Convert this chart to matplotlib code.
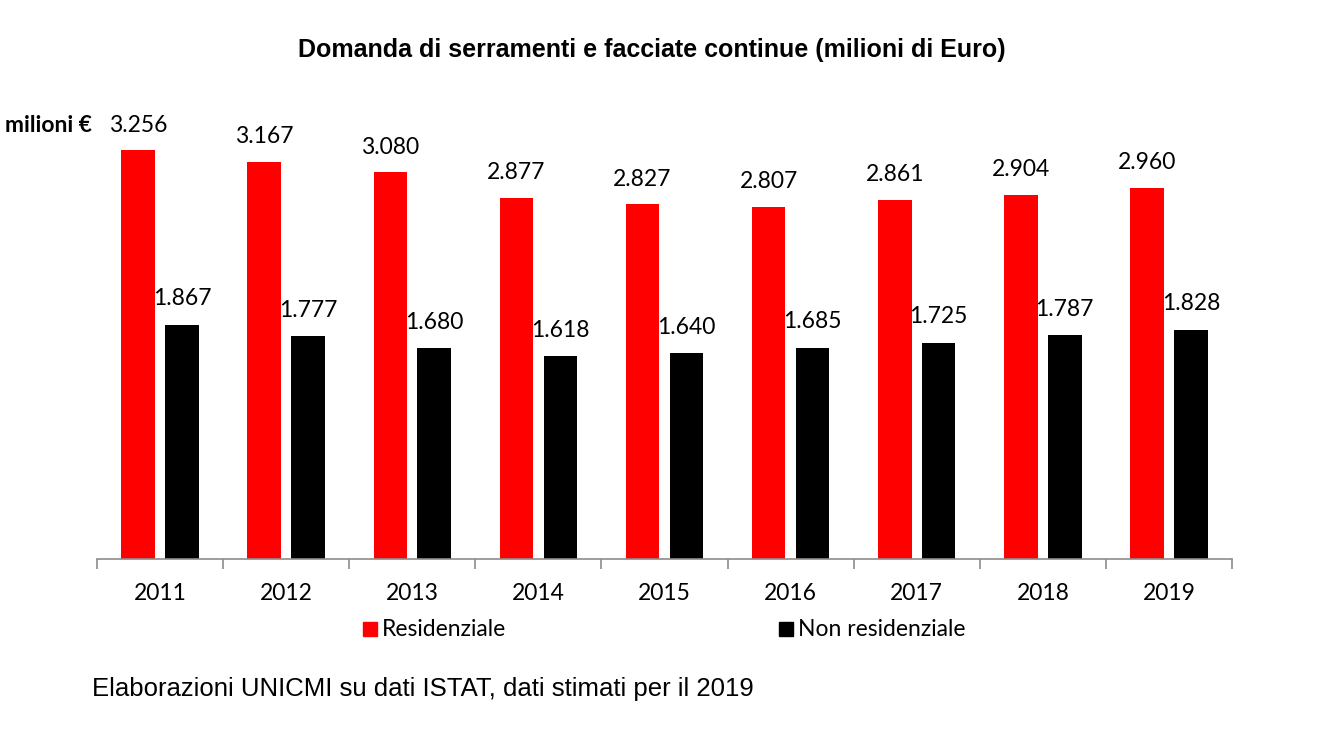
import matplotlib
matplotlib.use("Agg")
import matplotlib.pyplot as plt
from matplotlib.patches import Rectangle
import numpy as np

years = ["2011", "2012", "2013", "2014", "2015", "2016", "2017", "2018", "2019"]
residenziale = [3256, 3167, 3080, 2877, 2827, 2807, 2861, 2904, 2960]
non_residenziale = [1867, 1777, 1680, 1618, 1640, 1685, 1725, 1787, 1828]
labels_res = ["3.256", "3.167", "3.080", "2.877", "2.827", "2.807", "2.861", "2.904", "2.960"]
labels_non = ["1.867", "1.777", "1.680", "1.618", "1.640", "1.685", "1.725", "1.787", "1.828"]

W, H = 1323, 733
fig = plt.figure(figsize=(W / 100, H / 100), dpi=100)
ymax = 3500
scale = 0.1255  # px per unit
ax_h = ymax * scale / H
ax = fig.add_axes([97 / W, (H - 559) / H, 1135 / W, ax_h])

x = np.arange(len(years))
bw = 0.266
off = 0.174
RED = "#ff0000"
ax.bar(x - off, residenziale, bw, color=RED, label="Residenziale")
ax.bar(x + off, non_residenziale, bw, color="#000000", label="Non residenziale")

lab_font = "Lato"
fs = 16.5
for xi, v, t in zip(x - off, residenziale, labels_res):
    ax.annotate(t, (xi, v), xytext=(0, 18), textcoords="offset points",
                ha="center", va="center", fontsize=fs, family=lab_font)
for xi, v, t in zip(x + off, non_residenziale, labels_non):
    ax.annotate(t, (xi, v), xytext=(0, 18.5), textcoords="offset points",
                ha="center", va="center", fontsize=fs, family=lab_font)

ax.set_xlim(-0.5, len(years) - 0.5)
ax.set_ylim(0, ymax)
for s in ["top", "right", "left"]:
    ax.spines[s].set_visible(False)
ax.spines["bottom"].set_color("#8c8c8c")
ax.spines["bottom"].set_linewidth(1.2)
ax.set_yticks([])
ax.set_xticks(x)
ax.set_xticklabels(years, fontsize=fs, family=lab_font)
ax.tick_params(axis="x", which="major", length=0, pad=17)
ax.set_xticks(np.arange(-0.5, len(years)), minor=True)
ax.tick_params(axis="x", which="minor", length=7, color="#8c8c8c", width=1.2)

fig.text(652 / W, 1 - 50 / H, "Domanda di serramenti e facciate continue (milioni di Euro)",
         ha="center", va="center", fontsize=18, fontweight="bold", family="Liberation Sans")
fig.text(5 / W, 1 - 126 / H, "milioni €", ha="left", va="center", fontsize=fs,
         fontweight="bold", family=lab_font)
fig.text(92 / W, 1 - 689 / H, "Elaborazioni UNICMI su dati ISTAT, dati stimati per il 2019",
         ha="left", va="center", fontsize=18.5, family="Liberation Sans")

# legend
sq = 14
for (x0, col, txt) in [(363, RED, "Residenziale"), (779, "#000000", "Non residenziale")]:
    fig.add_artist(Rectangle((x0 / W, 1 - 636 / H), sq / W, sq / H, color=col,
                             transform=fig.transFigure))
    fig.text((x0 + 19) / W, 1 - 629 / H, txt, ha="left", va="center", fontsize=fs,
             family=lab_font)

fig.savefig("out.png", dpi=100)
